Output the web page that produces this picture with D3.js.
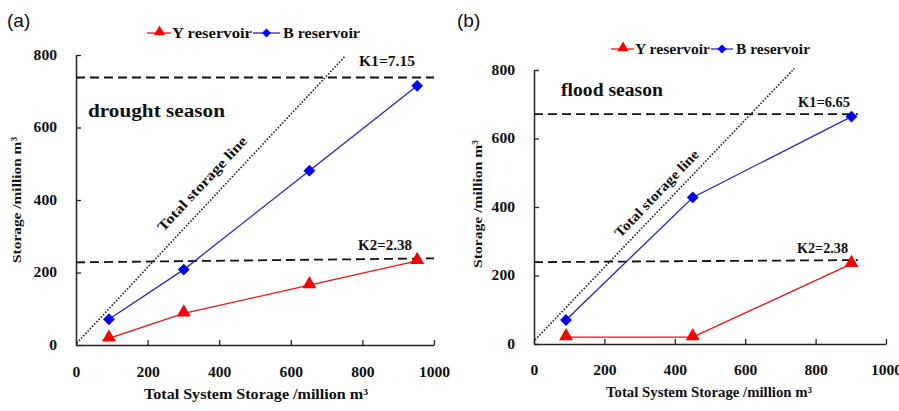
<!DOCTYPE html>
<html>
<head>
<meta charset="utf-8">
<script src="https://cdn.jsdelivr.net/npm/d3@7"></script>
<style>
  body { margin: 0; background: #fff; }
  svg { display: block; }
  text { font-family: "Liberation Serif", "Times New Roman", serif; font-weight: bold; fill: #111; }
</style>
</head>
<body>
<svg id="chart" width="899" height="411"></svg>
<script>
// tick labels
var xTicks = [0, 200, 400, 600, 800, 1000];
var yTicks = [0, 200, 400, 600, 800];

// (a) drought season
var droughtX = [92, 301, 652, 953];
var droughtB = [71, 208, 481, 715];
var droughtY = [18, 87, 165, 232];
// total storage line ends, K lines (start, end)
var droughtTotal = [[2, 5], [750, 795]];
var droughtK1 = [[0, 738], [1000, 738]];
var droughtK2 = [[0, 228], [1000, 239]];

// (b) flood season
var floodX = [91, 451, 902];
var floodB = [70, 428, 664];
var floodY = [20, 20, 234];
var floodTotal = [[3, 12], [740, 805]];
var floodK1 = [[0, 671], [920, 671]];
var floodK2 = [[0, 239], [920, 245]];

var svg = d3.select("#chart");

// the picture's serif text is a bit wider than Liberation Serif, so stretch it
function fit(t, w) {
    return t.attr("textLength", w).attr("lengthAdjust", "spacingAndGlyphs");
}

function panel(p) {
    var x = d3.scaleLinear().domain([0, 1000]).range(p.xr);
    var y = d3.scaleLinear().domain([0, 800]).range(p.yr);
    var g = svg.append("g");

    // axes with inward ticks
    var ax = g.append("g")
        .attr("transform", "translate(0," + p.yr[0] + ")")
        .call(d3.axisBottom(x).tickValues(xTicks).tickFormat(d3.format("d"))
            .tickSize(-5).tickSizeOuter(0).tickPadding(p.xpad));
    var ay = g.append("g")
        .attr("transform", "translate(" + p.xr[0] + ",0)")
        .call(d3.axisLeft(y).tickValues(yTicks).tickFormat(d3.format("d"))
            .tickSize(-5).tickSizeOuter(0).tickPadding(19));
    [ax, ay].forEach(function (a) {
        a.select(".domain").attr("stroke", "#222").attr("stroke-width", 1.5);
        a.selectAll(".tick line").attr("stroke", "#222").attr("stroke-width", 1.3);
        a.selectAll(".tick text")
            .style("font-family", "Liberation Serif")
            .style("font-weight", "bold")
            .style("font-size", "14px")
            .attr("fill", "#111")
            .each(function (d) {
                fit(d3.select(this), String(d).length * 7.8);
            });
    });

    var line = d3.line()
        .x(function (d) { return x(d[0]); })
        .y(function (d) { return y(d[1]); });

    // dashed K lines
    [p.k1, p.k2].forEach(function (k) {
        g.append("path").attr("d", line(k))
            .attr("fill", "none").attr("stroke", "#111")
            .attr("stroke-width", 1.8).attr("stroke-dasharray", "9,5");
    });

    // total storage line
    g.append("path").attr("d", line(p.total))
        .attr("fill", "none").attr("stroke", "#222")
        .attr("stroke-width", 1.6).attr("stroke-dasharray", "1.6,1.6");

    var ang = Math.atan2(y(p.total[1][1]) - y(p.total[0][1]), x(p.total[1][0]) - x(p.total[0][0])) * 180 / Math.PI;
    fit(g.append("text")
        .attr("transform", "translate(" + x(p.labelAt[0]) + "," + y(p.labelAt[1]) + ") rotate(" + ang + ")")
        .attr("text-anchor", "middle")
        .style("font-size", "14px")
        .text("Total storage line"), p.labelW);

    var bPts = p.xs.map(function (v, i) { return [v, p.b[i]]; });
    var yPts = p.xs.map(function (v, i) { return [v, p.yv[i]]; });

    g.append("path").attr("d", line(yPts))
        .attr("fill", "none").attr("stroke", "#f01010").attr("stroke-width", 1.3);
    g.append("path").attr("d", line(bPts))
        .attr("fill", "none").attr("stroke", "#2424d8").attr("stroke-width", 1.3);

    g.selectAll(".tri").data(yPts).enter().append("path")
        .attr("d", d3.symbol().type(d3.symbolTriangle).size(85))
        .attr("transform", function (d) { return "translate(" + x(d[0]) + "," + (y(d[1]) - 1) + ")"; })
        .attr("fill", "#ff0000");
    g.selectAll(".dia").data(bPts).enter().append("path")
        .attr("d", d3.symbol().type(d3.symbolSquare).size(70))
        .attr("transform", function (d) { return "translate(" + x(d[0]) + "," + y(d[1]) + ") rotate(45)"; })
        .attr("fill", "#0000ff");

    // legend
    var L = p.legend;
    var lg = g.append("g").attr("transform", "translate(" + L.x + "," + L.y + ")");
    lg.append("line").attr("x1", 0).attr("x2", L.t1 - 1).attr("stroke", "#f01010").attr("stroke-width", 1.3);
    lg.append("path").attr("d", d3.symbol().type(d3.symbolTriangle).size(55))
        .attr("transform", "translate(" + (L.t1 / 2) + ",-1)").attr("fill", "#ff0000");
    fit(lg.append("text").attr("x", L.t1).attr("y", 5).style("font-size", "14px").text("Y reservoir"), L.w1);
    var bx = L.t1 + L.w1 + 1;
    lg.append("line").attr("x1", bx).attr("x2", L.t2 - 3).attr("stroke", "#2424d8").attr("stroke-width", 1.3);
    lg.append("path").attr("d", d3.symbol().type(d3.symbolSquare).size(40))
        .attr("transform", "translate(" + ((bx + L.t2 - 3) / 2) + ",0) rotate(45)").attr("fill", "#0000ff");
    fit(lg.append("text").attr("x", L.t2).attr("y", 5).style("font-size", "14px").text("B reservoir"), L.w2);

    // annotations
    fit(g.append("text").attr("x", p.k1Label[0]).attr("y", p.k1Label[1]).style("font-size", "14px").text(p.k1Text), p.k1Label[2]);
    fit(g.append("text").attr("x", p.k2Label[0]).attr("y", p.k2Label[1]).style("font-size", "14px").text("K2=2.38"), p.k2Label[2]);
    fit(g.append("text").attr("x", p.season[0]).attr("y", p.season[1]).style("font-size", "18px").text(p.seasonText), p.season[2]);

    g.append("text").attr("x", p.tag[0]).attr("y", p.tag[1])
        .style("font-family", "Liberation Sans, Arial, sans-serif").style("font-weight", "normal")
        .style("font-size", "19px").text(p.tagText);

    fit(g.append("text").attr("x", p.xTitle[0] - p.xTitle[2] / 2).attr("y", p.xTitle[1])
        .style("font-size", "14px")
        .text("Total System Storage /million m\u00b3"), p.xTitle[2]);
    fit(g.append("text")
        .attr("transform", "translate(" + p.yTitle[0] + "," + (p.yTitle[1] + p.yTitle[2] / 2) + ") rotate(-90)")
        .style("font-size", "13.5px")
        .text("Storage /million m\u00b3"), p.yTitle[2]);
}

panel({
    xr: [76, 434], yr: [345, 55], xpad: 22,
    xs: droughtX, b: droughtB, yv: droughtY,
    total: droughtTotal, k1: droughtK1, k2: droughtK2,
    labelAt: [362, 436], labelW: 124,
    legend: { x: 147, y: 33, t1: 25, w1: 80, t2: 136, w2: 77 },
    k1Label: [359, 66, 56], k1Text: "K1=7.15",
    k2Label: [358, 250, 54],
    season: [88, 117, 137], seasonText: "drought season",
    tag: [7, 27], tagText: "(a)",
    xTitle: [256, 399, 224],
    yTitle: [21, 200, 126]
});

panel({
    xr: [534, 886], yr: [344, 70], xpad: 21,
    xs: floodX, b: floodB, yv: floodY,
    total: floodTotal, k1: floodK1, k2: floodK2,
    labelAt: [358, 430], labelW: 115,
    legend: { x: 611, y: 49, t1: 24, w1: 75, t2: 125, w2: 74 },
    k1Label: [798, 107, 52], k1Text: "K1=6.65",
    k2Label: [797, 253, 51],
    season: [561, 96, 102], seasonText: "flood season",
    tag: [457, 27], tagText: "(b)",
    xTitle: [709, 397, 206],
    yTitle: [482, 204, 128]
});
</script>
</body>
</html>
